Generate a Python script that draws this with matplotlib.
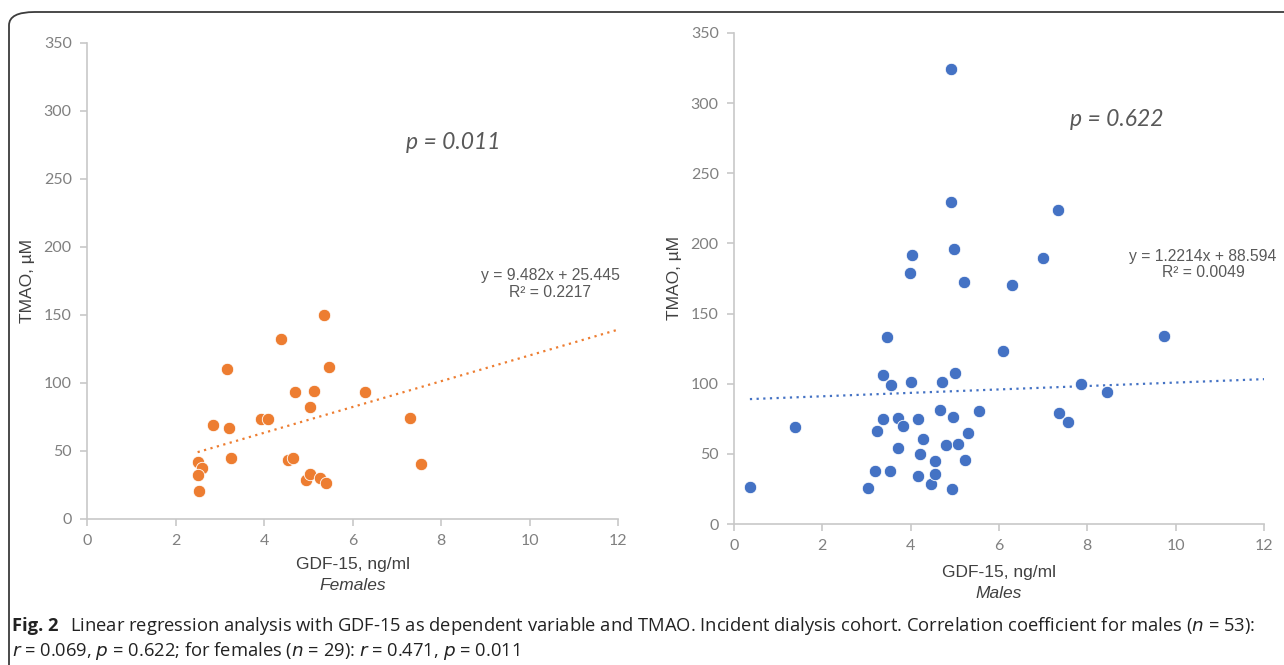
import matplotlib
matplotlib.use("Agg")
import matplotlib.pyplot as plt
from matplotlib.patches import FancyBboxPatch
import numpy as np

# Females (orange)
fem_gdf = [2.50, 2.61, 2.50, 2.53, 2.85, 3.16, 3.21, 3.26, 3.94, 4.10, 4.39, 4.55, 4.66,
           4.70, 4.94, 5.03, 5.05, 5.13, 5.27, 5.36, 5.41, 5.48, 6.28, 7.29, 7.54]
fem_tmao = [41.7, 37.5, 32.1, 20.6, 69.0, 110.5, 67.1, 44.8, 73.5, 73.5, 132.4, 43.1, 44.5,
            93.3, 28.5, 82.6, 33.0, 94.1, 30.1, 150.2, 26.5, 112.1, 93.3, 74.1, 40.3]
fem_fit = (9.482, 25.445)

# Males (blue)
male_gdf = [0.36, 1.37, 3.03, 3.20, 3.23, 3.37, 3.37, 3.46, 3.53, 3.55, 3.71, 3.71, 3.83,
            3.98, 4.01, 4.02, 4.16, 4.16, 4.21, 4.28, 4.47, 4.56, 4.56, 4.67, 4.72, 4.80,
            4.92, 4.92, 4.94, 4.95, 4.98, 5.00, 5.08, 5.21, 5.23, 5.29, 5.55, 6.10, 6.30,
            6.99, 7.34, 7.36, 7.56, 7.85, 8.44, 9.73]
male_tmao = [26.5, 69.1, 25.9, 37.7, 66.3, 74.5, 105.9, 133.0, 37.7, 99.1, 54.1, 75.9, 69.9,
             179.1, 101.0, 191.4, 34.4, 75.1, 49.7, 60.9, 28.7, 45.0, 35.8, 81.1, 101.0, 56.0,
             324.6, 229.6, 24.6, 76.4, 196.0, 107.8, 56.8, 172.8, 45.6, 64.7, 80.5, 123.4, 170.4,
             189.5, 223.9, 79.4, 72.6, 99.9, 94.2, 133.8]
male_fit = (1.2214, 88.594)

x_ticks = [0, 2, 4, 6, 8, 10, 12]
y_ticks = [0, 50, 100, 150, 200, 250, 300, 350]

TICK_FONT = ["Lato", "DejaVu Sans"]
LABEL_FONT = ["Liberation Sans", "DejaVu Sans"]
W, H = 1284, 665


def draw_panel(ax, xs, ys, fit, color, p_text, p_pos, eq_text, eq_pos, sub, xlab_y):
    ax.scatter(xs, ys, s=80, color=color, edgecolor="white", linewidth=0.6, zorder=3)
    slope, icpt = fit
    xl = np.array([min(xs), 12])
    ax.plot(xl, slope * xl + icpt, color=color, linestyle=(0, (1, 2)), linewidth=1.6, zorder=2)
    ax.set_xlim(0, 12)
    ax.set_ylim(0, 350)
    ax.set_xticks(x_ticks)
    ax.set_yticks(y_ticks)
    for s in ["top", "right"]:
        ax.spines[s].set_visible(False)
    for s in ["left", "bottom"]:
        ax.spines[s].set_color("#c8c8c8")
        ax.spines[s].set_linewidth(1.2)
    ax.tick_params(colors="#c8c8c8", length=5, width=1.2, labelcolor="#808080",
                   labelsize=11.5, pad=6)
    for lab in ax.get_xticklabels() + ax.get_yticklabels():
        lab.set_family(TICK_FONT)
    ax.set_ylabel("TMAO, µM", family=LABEL_FONT, fontsize=12.5, color="#404040", labelpad=6)
    # x label and subgroup name placed under the axis
    ax.text(0.5, xlab_y[0], "GDF-15, ng/ml", transform=ax.transAxes, ha="center",
            va="center", family=LABEL_FONT, fontsize=12.5, color="#404040")
    ax.text(0.5, xlab_y[1], sub, transform=ax.transAxes, ha="center", va="center",
            family=LABEL_FONT, fontsize=12.5, style="italic", color="#404040")
    ax.text(p_pos[0], p_pos[1], p_text, ha="center", va="center", family=TICK_FONT,
            fontsize=16.5, style="italic", color="#595959")
    ax.text(eq_pos[0], eq_pos[1], eq_text, ha="center", va="center", family=LABEL_FONT,
            fontsize=11.3, color="#595959", linespacing=1.15, clip_on=False)


fig = plt.figure(figsize=(W / 100, H / 100), dpi=100)

frame = FancyBboxPatch((9 / W, -0.05), 1.2, 1.05 - 12 / H,
                       boxstyle="round,pad=0,rounding_size=0.02",
                       transform=fig.transFigure, facecolor="none",
                       edgecolor="#3c3c3c", linewidth=1.3, clip_on=False)
fig.patches.append(frame)

ax1 = fig.add_axes([87 / W, 1 - 519 / H, 531 / W, 476 / H])
ax2 = fig.add_axes([734 / W, 1 - 524 / H, 530 / W, 491 / H])

draw_panel(ax1, fem_gdf, fem_tmao, fem_fit, "#ED7D31", "p = 0.011", (8.27, 277),
           "y = 9.482x + 25.445\nR² = 0.2217", (10.47, 173), "Females",
           (-(565 - 519) / 476, -(586 - 519) / 476))
draw_panel(ax2, male_gdf, male_tmao, male_fit, "#4472C4", "p = 0.622", (8.67, 288),
           "y = 1.2214x + 88.594\nR² = 0.0049", (10.62, 185), "Males",
           (-(572 - 524) / 491, -(593 - 524) / 491))

cap_font = ["Open Sans", "DejaVu Sans"]
cap_size = 13.2
fig.text(12 / W, 1 - 626 / H, "Fig. 2", family=cap_font, fontsize=cap_size,
         weight="bold", color="#222222", va="center")
fig.text(70 / W, 1 - 626 / H,
         "Linear regression analysis with GDF-15 as dependent variable and TMAO. Incident dialysis "
         "cohort. Correlation coefficient for males ($n$ = 53):",
         family=cap_font, fontsize=cap_size, color="#222222", va="center")
fig.text(12 / W, 1 - 651 / H,
         "$r$ = 0.069, $p$ = 0.622; for females ($n$ = 29): $r$ = 0.471, $p$ = 0.011",
         family=cap_font, fontsize=cap_size, color="#222222", va="center")

fig.savefig("out.png", dpi=100)
